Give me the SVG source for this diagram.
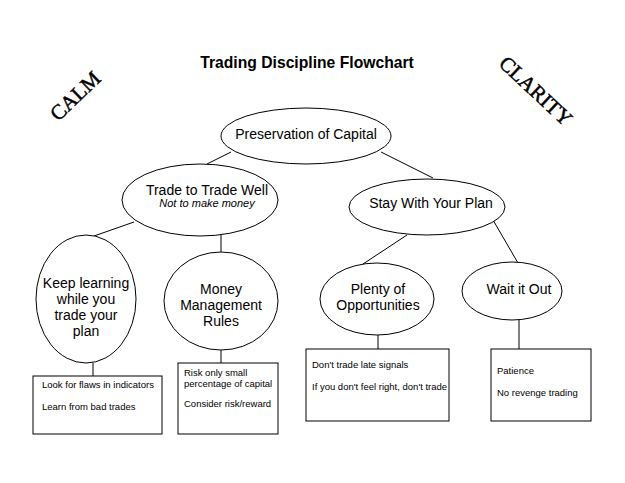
<svg xmlns="http://www.w3.org/2000/svg" width="625" height="483" viewBox="0 0 625 483">
<style>
.n{fill:#fff;stroke:#000;stroke-width:1}
.c line{stroke:#000;stroke-width:1}
.t{font-family:"Liberation Sans",Arial,sans-serif;font-size:14px;fill:#000;text-anchor:middle}
.s{font-family:"Liberation Sans",Arial,sans-serif;font-size:9.5px;fill:#000}
.w{font-family:"Liberation Serif","Times New Roman",serif;font-size:21px;fill:#000;stroke:#000;stroke-width:0.5;text-anchor:middle}
</style>
<rect width="625" height="483" fill="#fff"/>
<text x="307" y="68" class="t" style="font-weight:bold;font-size:15.7px">Trading Discipline Flowchart</text>
<text class="w" transform="translate(80,101) rotate(-44)">CALM</text>
<text class="w" transform="translate(531,96) rotate(43)">CLARITY</text>
<g class="c">
<line x1="231" y1="152" x2="207" y2="164"/>
<line x1="381" y1="152" x2="433" y2="178"/>
<line x1="134" y1="222" x2="94" y2="236"/>
<line x1="221" y1="235" x2="221" y2="252"/>
<line x1="407" y1="235" x2="363" y2="264"/>
<line x1="493" y1="220" x2="518" y2="263"/>
<line x1="93" y1="363" x2="93" y2="376"/>
<line x1="221" y1="350" x2="221" y2="363"/>
<line x1="378" y1="335" x2="378" y2="349"/>
<line x1="519" y1="320" x2="519" y2="349"/>
</g>
<g id="preservation"><ellipse class="n" cx="306" cy="136" rx="85" ry="28"/><text class="t" x="306" y="139">Preservation of Capital</text></g>
<g id="trade-well"><ellipse class="n" cx="200" cy="200" rx="78" ry="36"/><text class="t" x="207" y="195">Trade to Trade Well</text><text class="t" x="207" y="207" style="font-style:italic;font-size:11px">Not to make money</text></g>
<g id="stay-plan"><ellipse class="n" cx="427" cy="207" rx="78" ry="28"/><text class="t" x="431" y="208">Stay With Your Plan</text></g>
<g id="keep-learning"><ellipse class="n" cx="86" cy="299" rx="50" ry="64"/><text class="t" x="86" y="288">Keep learning</text><text class="t" x="86" y="304">while you</text><text class="t" x="86" y="320">trade your</text><text class="t" x="86" y="336">plan</text></g>
<g id="money"><ellipse class="n" cx="221" cy="301" rx="57" ry="49"/><text class="t" x="221" y="294">Money</text><text class="t" x="221" y="310">Management</text><text class="t" x="221" y="326">Rules</text></g>
<g id="plenty"><ellipse class="n" cx="377" cy="299" rx="57" ry="36"/><text class="t" x="378" y="294">Plenty of</text><text class="t" x="378" y="310">Opportunities</text></g>
<g id="wait"><ellipse class="n" cx="512" cy="291" rx="50" ry="29"/><text class="t" x="519" y="294">Wait it Out</text></g>
<g id="box-learn"><rect class="n" x="33" y="376" width="129" height="58"/><text class="s" x="42" y="388">Look for flaws in indicators</text><text class="s" x="42" y="410">Learn from bad trades</text></g>
<g id="box-money"><rect class="n" x="178" y="363" width="100" height="71"/><text class="s" x="184" y="376">Risk only small</text><text class="s" x="184" y="387">percentage of capital</text><text class="s" x="184" y="407">Consider risk/reward</text></g>
<g id="box-plenty"><rect class="n" x="306" y="349" width="143" height="72"/><text class="s" x="312" y="368">Don't trade late signals</text><text class="s" x="312" y="390">If you don't feel right, don't trade</text></g>
<g id="box-wait"><rect class="n" x="491" y="349" width="100" height="72"/><text class="s" x="497" y="374">Patience</text><text class="s" x="497" y="396">No revenge trading</text></g>
</svg>
